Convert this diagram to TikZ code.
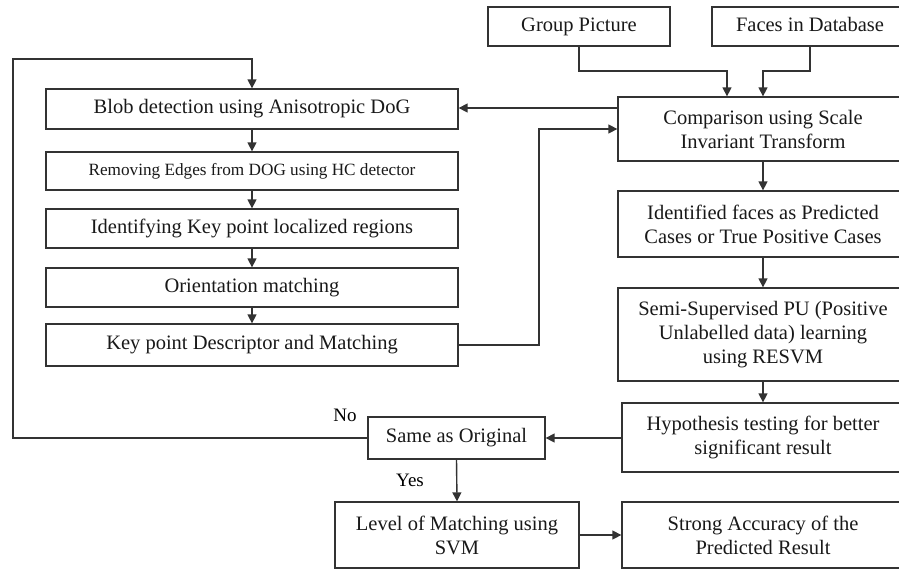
\documentclass[tikz,border=0pt]{standalone}
\usepackage{fontspec}
\setmainfont{Liberation Serif}
\usetikzlibrary{arrows.meta,calc}
\begin{document}
\begin{tikzpicture}[x=1pt,y=-1pt,
  box/.style={draw=black!80,line width=1.3pt,rectangle,inner sep=0pt,align=center,
    font=\fontsize{20.5}{24}\selectfont,text=black!90},
  sl/.style={text height=14pt,text depth=4.5pt},
  conn/.style={draw=black!80,line width=1.4pt,-{Triangle[length=9pt,width=9pt]}},
  plain/.style={draw=black!80,line width=1.4pt},
  lbl/.style={font=\fontsize{19}{22}\selectfont,inner sep=0pt}]
\clip (0,0) rectangle (899,570);
\useasboundingbox (0,0) rectangle (899,570);
\fill[white] (0,0) rectangle (899,570);
% top inputs
\node[box,sl,minimum width=182pt,minimum height=39pt] (gp) at (579,26.5) {Group Picture};
\node[box,sl,minimum width=196pt,minimum height=39pt] (fd) at (810,26.5) {Faces in Database};
% right column
\node[box,minimum width=290pt,minimum height=64pt] (cmp) at (763,129) {Comparison using Scale\\Invariant Transform};
\node[box,minimum width=290pt,minimum height=66pt] (idf) at (763,224) {Identified faces as Predicted\\Cases or True Positive Cases};
\node[box,minimum width=290pt,minimum height=93pt] (semi) at (763,334.5) {Semi-Supervised PU (Positive\\Unlabelled data) learning\\using RESVM};
\node[box,minimum width=282pt,minimum height=69pt] (hyp) at (763,437.5) {Hypothesis testing for better\\significant result};
\node[box,minimum width=282pt,minimum height=66pt] (str) at (763,535) {Strong Accuracy of the\\Predicted Result};
% left column
\node[box,sl,minimum width=412pt,minimum height=40pt] (blob) at (252,109) {Blob detection using Anisotropic DoG};
\node[box,minimum width=412pt,minimum height=38pt,font=\fontsize{17.2}{20}\selectfont,text height=12pt,text depth=4pt] (rem) at (252,171) {Removing Edges from DOG using HC detector};
\node[box,sl,minimum width=412pt,minimum height=39pt] (ide) at (252,228.5) {Identifying Key point localized regions};
\node[box,sl,minimum width=412pt,minimum height=39pt] (ori) at (252,287.5) {Orientation matching};
\node[box,sl,minimum width=412pt,minimum height=42pt] (kp) at (252,345) {Key point Descriptor and Matching};
% bottom
\node[box,sl,minimum width=177pt,minimum height=42pt] (same) at (456.5,438) {Same as Original};
\node[box,minimum width=244pt,minimum height=66pt] (lvl) at (457,535) {Level of Matching using\\SVM};
\node[lbl] (no) at (345,415) {No};
\node[lbl] (yes) at (410,480) {Yes};
% helper coordinates
\coordinate (gpx) at (727,0);
\coordinate (fdx) at (763,0);
\coordinate (topy) at (0,71);
\coordinate (loopx) at (13,0);
\coordinate (loopy) at (0,59);
\coordinate (kpx) at (539,0);
\coordinate (cmpin) at (0,129);
\coordinate (cmpout) at (0,108);
% connectors
\draw[conn] (gp.south) |- (gpx |- topy) -- (gpx |- cmp.north);
\draw[conn] (fd.south) |- (fdx |- topy) -- (fdx |- cmp.north);
\draw[conn] (cmp.west |- cmpout) -- (blob.east |- cmpout);
\draw[conn] (kp.east) -- (kpx |- kp.east) -- (kpx |- cmpin) -- (cmp.west |- cmpin);
\draw[conn] (blob.south) -- (rem.north);
\draw[conn] (rem.south) -- (ide.north);
\draw[conn] (ide.south) -- (ori.north);
\draw[conn] (ori.south) -- (kp.north);
\draw[conn] (cmp.south) -- (idf.north);
\draw[conn] (idf.south) -- (semi.north);
\draw[conn] (semi.south) -- (hyp.north);
\draw[conn] (hyp.west |- same.east) -- (same.east);
\draw[conn] (same.west) -- (loopx |- same.west) -- (loopx |- loopy) -- (blob.north |- loopy) -- (blob.north);
\draw[conn] (same.south) -- (lvl.north);
\draw[conn] (lvl.east |- str.west) -- (str.west);
\end{tikzpicture}
\end{document}
